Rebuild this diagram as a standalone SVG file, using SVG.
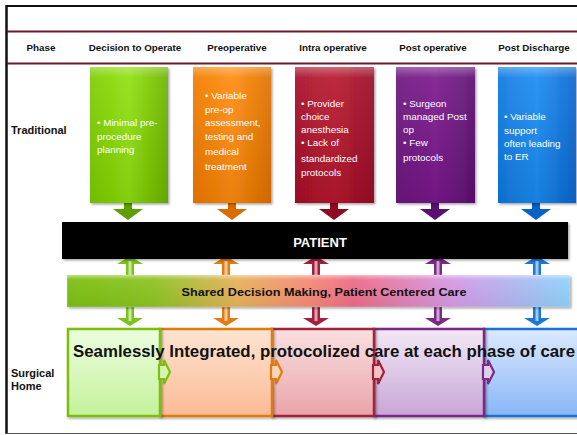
<svg xmlns="http://www.w3.org/2000/svg" width="577" height="435" viewBox="0 0 577 435">
<defs>
<style>
.hdr{font-family:"Liberation Sans",Arial,sans-serif;font-weight:bold;font-size:9.8px;fill:#111;text-anchor:middle}
.lbl{font-family:"Liberation Sans",Arial,sans-serif;font-weight:bold;font-size:11px;fill:#111}
.bt{font-family:"Liberation Sans",Arial,sans-serif;font-size:9.9px;fill:#fff}
</style>
<linearGradient id="gG" x1="0" y1="0" x2="1" y2="0"><stop offset="0" stop-color="#7ccc00"/><stop offset="0.5" stop-color="#8fe00a"/><stop offset="1" stop-color="#6cb400"/></linearGradient>
<linearGradient id="gO" x1="0" y1="0" x2="1" y2="0"><stop offset="0" stop-color="#f07a00"/><stop offset="0.5" stop-color="#ff8c0a"/><stop offset="1" stop-color="#e07000"/></linearGradient>
<linearGradient id="gR" x1="0" y1="0" x2="1" y2="0"><stop offset="0" stop-color="#a8102a"/><stop offset="0.5" stop-color="#b8142e"/><stop offset="1" stop-color="#9a0e26"/></linearGradient>
<linearGradient id="gP" x1="0" y1="0" x2="1" y2="0"><stop offset="0" stop-color="#6c1480"/><stop offset="0.5" stop-color="#7a1a8c"/><stop offset="1" stop-color="#5e0f72"/></linearGradient>
<linearGradient id="gB" x1="0" y1="0" x2="1" y2="0"><stop offset="0" stop-color="#0f78e0"/><stop offset="0.5" stop-color="#1a8cf2"/><stop offset="1" stop-color="#0a66d0"/></linearGradient>
<linearGradient id="gloss" x1="0" y1="0" x2="0" y2="1"><stop offset="0" stop-color="#fff" stop-opacity="0.35"/><stop offset="0.08" stop-color="#fff" stop-opacity="0.08"/><stop offset="1" stop-color="#000" stop-opacity="0.08"/></linearGradient>
<linearGradient id="banner" x1="0" y1="0" x2="1" y2="0">
<stop offset="0" stop-color="#7cc012"/><stop offset="0.17" stop-color="#8dc424"/><stop offset="0.34" stop-color="#e8b25c"/><stop offset="0.48" stop-color="#f68b78"/><stop offset="0.57" stop-color="#ee6d88"/><stop offset="0.77" stop-color="#d59be6"/><stop offset="1" stop-color="#8fd3fb"/>
</linearGradient>
<linearGradient id="bannerGloss" x1="0" y1="0" x2="0" y2="1"><stop offset="0" stop-color="#fff" stop-opacity="0.45"/><stop offset="0.15" stop-color="#fff" stop-opacity="0.05"/><stop offset="1" stop-color="#000" stop-opacity="0.05"/></linearGradient>
<linearGradient id="hG" x1="0" y1="0" x2="0" y2="1"><stop offset="0" stop-color="#ecfde0"/><stop offset="1" stop-color="#c4f29a"/></linearGradient>
<linearGradient id="hO" x1="0" y1="0" x2="0" y2="1"><stop offset="0" stop-color="#fde4d2"/><stop offset="1" stop-color="#fbbb94"/></linearGradient>
<linearGradient id="hR" x1="0" y1="0" x2="0" y2="1"><stop offset="0" stop-color="#fae0e0"/><stop offset="1" stop-color="#e9a4a8"/></linearGradient>
<linearGradient id="hP" x1="0" y1="0" x2="0" y2="1"><stop offset="0" stop-color="#f2e8f5"/><stop offset="1" stop-color="#c8a6d6"/></linearGradient>
<linearGradient id="hB" x1="0" y1="0" x2="0" y2="1"><stop offset="0" stop-color="#dde9ff"/><stop offset="1" stop-color="#88b6f6"/></linearGradient>
<filter id="sh" x="-10%" y="-10%" width="125%" height="125%"><feDropShadow dx="1.5" dy="1.5" stdDeviation="1.2" flood-color="#000" flood-opacity="0.35"/></filter>
<path id="down" d="M-4,0 L4,0 L4,7 L15,7 L0,18 L-15,7 L-4,7 Z"/>
<path id="up" d="M0,0 L13,8 L4,8 L4,20 L-4,20 L-4,8 L-13,8 Z"/>
<path id="dn2" d="M-4,0 L4,0 L4,11 L13,11 L0,19 L-13,11 L-4,11 Z"/>
<path id="notch" d="M0,-7 L5,-7 L5,-12 L11,0 L5,12 L5,7 L0,7 Z"/>
</defs>

<rect x="0" y="0" width="577" height="435" fill="#fff"/>
<g id="frame">
<line x1="6" y1="6" x2="577" y2="6" stroke="#111" stroke-width="2"/>
<line x1="6.5" y1="5" x2="6.5" y2="434" stroke="#111" stroke-width="2.5"/>
<line x1="6" y1="433.5" x2="577" y2="433.5" stroke="#555" stroke-width="1.2"/>
<line x1="7" y1="31.5" x2="577" y2="31.5" stroke="#6e1a2a" stroke-width="2.2"/>
<line x1="7" y1="63.5" x2="577" y2="63.5" stroke="#6e1a2a" stroke-width="2.2"/>
</g>

<g id="header">
<text class="hdr" x="41" y="51">Phase</text>
<text class="hdr" x="135" y="51">Decision to Operate</text>
<text class="hdr" x="237" y="51">Preoperative</text>
<text class="hdr" x="333" y="51">Intra operative</text>
<text class="hdr" x="433" y="51">Post operative</text>
<text class="hdr" x="534" y="51">Post Discharge</text>
</g>

<g id="row-labels">
<text class="lbl" x="11" y="134">Traditional</text>
<text class="lbl" x="11" y="377">Surgical</text>
<text class="lbl" x="11" y="390">Home</text>
</g>

<g id="connectors">
<g fill="#5e9e00"><use href="#down" x="128" y="202"/></g>
<g fill="#d86c00"><use href="#down" x="232" y="202"/></g>
<g fill="#8e0c22"><use href="#down" x="334" y="202"/></g>
<g fill="#5a1070"><use href="#down" x="435" y="202"/></g>
<g fill="#0a62c8"><use href="#down" x="536" y="202"/></g>

<g fill="#7cc21a"><use href="#up" x="130" y="256"/><use href="#dn2" x="130" y="307"/></g>
<g fill="#e27c10"><use href="#up" x="226" y="256"/><use href="#dn2" x="226" y="307"/></g>
<g fill="#a3203c"><use href="#up" x="316" y="256"/><use href="#dn2" x="316" y="307"/></g>
<g fill="#7a2a86"><use href="#up" x="438" y="256"/><use href="#dn2" x="438" y="307"/></g>
<g fill="#1a78d6"><use href="#up" x="537" y="256"/><use href="#dn2" x="537" y="307"/></g>
<g fill="#fff" fill-opacity="0.6">
<rect x="128.5" y="261" width="3" height="15"/><rect x="128.5" y="307" width="3" height="14"/>
<rect x="224.5" y="261" width="3" height="15"/><rect x="224.5" y="307" width="3" height="14"/>
<rect x="314.5" y="261" width="3" height="15"/><rect x="314.5" y="307" width="3" height="14"/>
<rect x="436.5" y="261" width="3" height="15"/><rect x="436.5" y="307" width="3" height="14"/>
<rect x="535.5" y="261" width="3" height="15"/><rect x="535.5" y="307" width="3" height="14"/>
</g>
</g>

<g id="trad-decision">
<rect x="90" y="67" width="78" height="136" fill="url(#gG)" filter="url(#sh)"/>
<rect x="90" y="67" width="78" height="136" fill="url(#gloss)"/>
<text class="bt" x="97" y="126">• Minimal pre-</text>
<text class="bt" x="97" y="140">procedure</text>
<text class="bt" x="97" y="153">planning</text>
</g>
<g id="trad-preop">
<rect x="193" y="67" width="78" height="136" fill="url(#gO)" filter="url(#sh)"/>
<rect x="193" y="67" width="78" height="136" fill="url(#gloss)"/>
<text class="bt" x="205" y="99">• Variable</text>
<text class="bt" x="205" y="113">pre-op</text>
<text class="bt" x="205" y="126">assessment,</text>
<text class="bt" x="205" y="140">testing  and</text>
<text class="bt" x="205" y="155">medical</text>
<text class="bt" x="205" y="170">treatment</text>
</g>
<g id="trad-intra">
<rect x="295" y="67" width="79" height="136" fill="url(#gR)" filter="url(#sh)"/>
<rect x="295" y="67" width="79" height="136" fill="url(#gloss)"/>
<text class="bt" x="301" y="107">• Provider</text>
<text class="bt" x="301" y="120">choice</text>
<text class="bt" x="301" y="133">anesthesia</text>
<text class="bt" x="301" y="146">• Lack of</text>
<text class="bt" x="301" y="162">standardized</text>
<text class="bt" x="301" y="176">protocols</text>
</g>
<g id="trad-postop">
<rect x="396" y="67" width="79" height="136" fill="url(#gP)" filter="url(#sh)"/>
<rect x="396" y="67" width="79" height="136" fill="url(#gloss)"/>
<text class="bt" x="403" y="107">• Surgeon</text>
<text class="bt" x="403" y="120">managed Post</text>
<text class="bt" x="403" y="133">op</text>
<text class="bt" x="403" y="146">• Few</text>
<text class="bt" x="403" y="161">protocols</text>
</g>
<g id="trad-discharge">
<rect x="498" y="67" width="78" height="136" fill="url(#gB)" filter="url(#sh)"/>
<rect x="498" y="67" width="78" height="136" fill="url(#gloss)"/>
<text class="bt" x="504" y="120">• Variable</text>
<text class="bt" x="504" y="134">support</text>
<text class="bt" x="504" y="147">often leading</text>
<text class="bt" x="504" y="160">to ER</text>
</g>

<g id="patient">
<rect x="62" y="222" width="506" height="37" fill="#000" filter="url(#sh)"/>
<text x="320" y="247" font-family="'Liberation Sans',Arial,sans-serif" font-weight="bold" font-size="13px" fill="#fff" text-anchor="middle">PATIENT</text>
</g>

<g id="shared-decision">
<rect x="67" y="275" width="503" height="32" fill="url(#banner)" filter="url(#sh)"/>
<rect x="67" y="275" width="503" height="32" fill="url(#bannerGloss)" stroke="#fff" stroke-opacity="0.3" stroke-width="0.8"/>
<text x="324" y="296" font-family="'Liberation Sans',Arial,sans-serif" font-weight="bold" font-size="10.5px" fill="#111" text-anchor="middle" textLength="285" lengthAdjust="spacingAndGlyphs">Shared Decision Making, Patient Centered Care</text>
</g>

<g id="home-discharge"><rect x="484" y="329" width="100" height="87" fill="url(#hB)" stroke="#1874d2" stroke-width="2.5" filter="url(#sh)"/></g>
<g id="home-postop"><rect x="374" y="329" width="110" height="87" fill="url(#hP)" stroke="#7a2a86" stroke-width="2.5" filter="url(#sh)"/></g>
<g id="home-intra"><rect x="272" y="329" width="102" height="87" fill="url(#hR)" stroke="#a3203c" stroke-width="2.5" filter="url(#sh)"/></g>
<g id="home-preop"><rect x="160" y="329" width="112" height="87" fill="url(#hO)" stroke="#e07b10" stroke-width="2.5" filter="url(#sh)"/></g>
<g id="home-decision"><rect x="68" y="329" width="92" height="87" fill="url(#hG)" stroke="#7dbe10" stroke-width="2.5" filter="url(#sh)"/></g>

<g id="home-links" stroke-width="2.2" stroke-linejoin="miter">
<use href="#notch" x="159" y="372" fill="#d4f5b0" stroke="#7dbe10"/>
<use href="#notch" x="271" y="372" fill="#fcd4ba" stroke="#e07b10"/>
<use href="#notch" x="373" y="372" fill="#f2c4c6" stroke="#a3203c"/>
<use href="#notch" x="483" y="372" fill="#e0cfe8" stroke="#7a2a86"/>
</g>

<g id="home-text">
<text x="73" y="357" font-family="'Liberation Sans',Arial,sans-serif" font-weight="bold" font-size="16px" fill="#111" textLength="502" lengthAdjust="spacingAndGlyphs">Seamlessly Integrated, protocolized care at each phase of care</text>
</g>
</svg>
